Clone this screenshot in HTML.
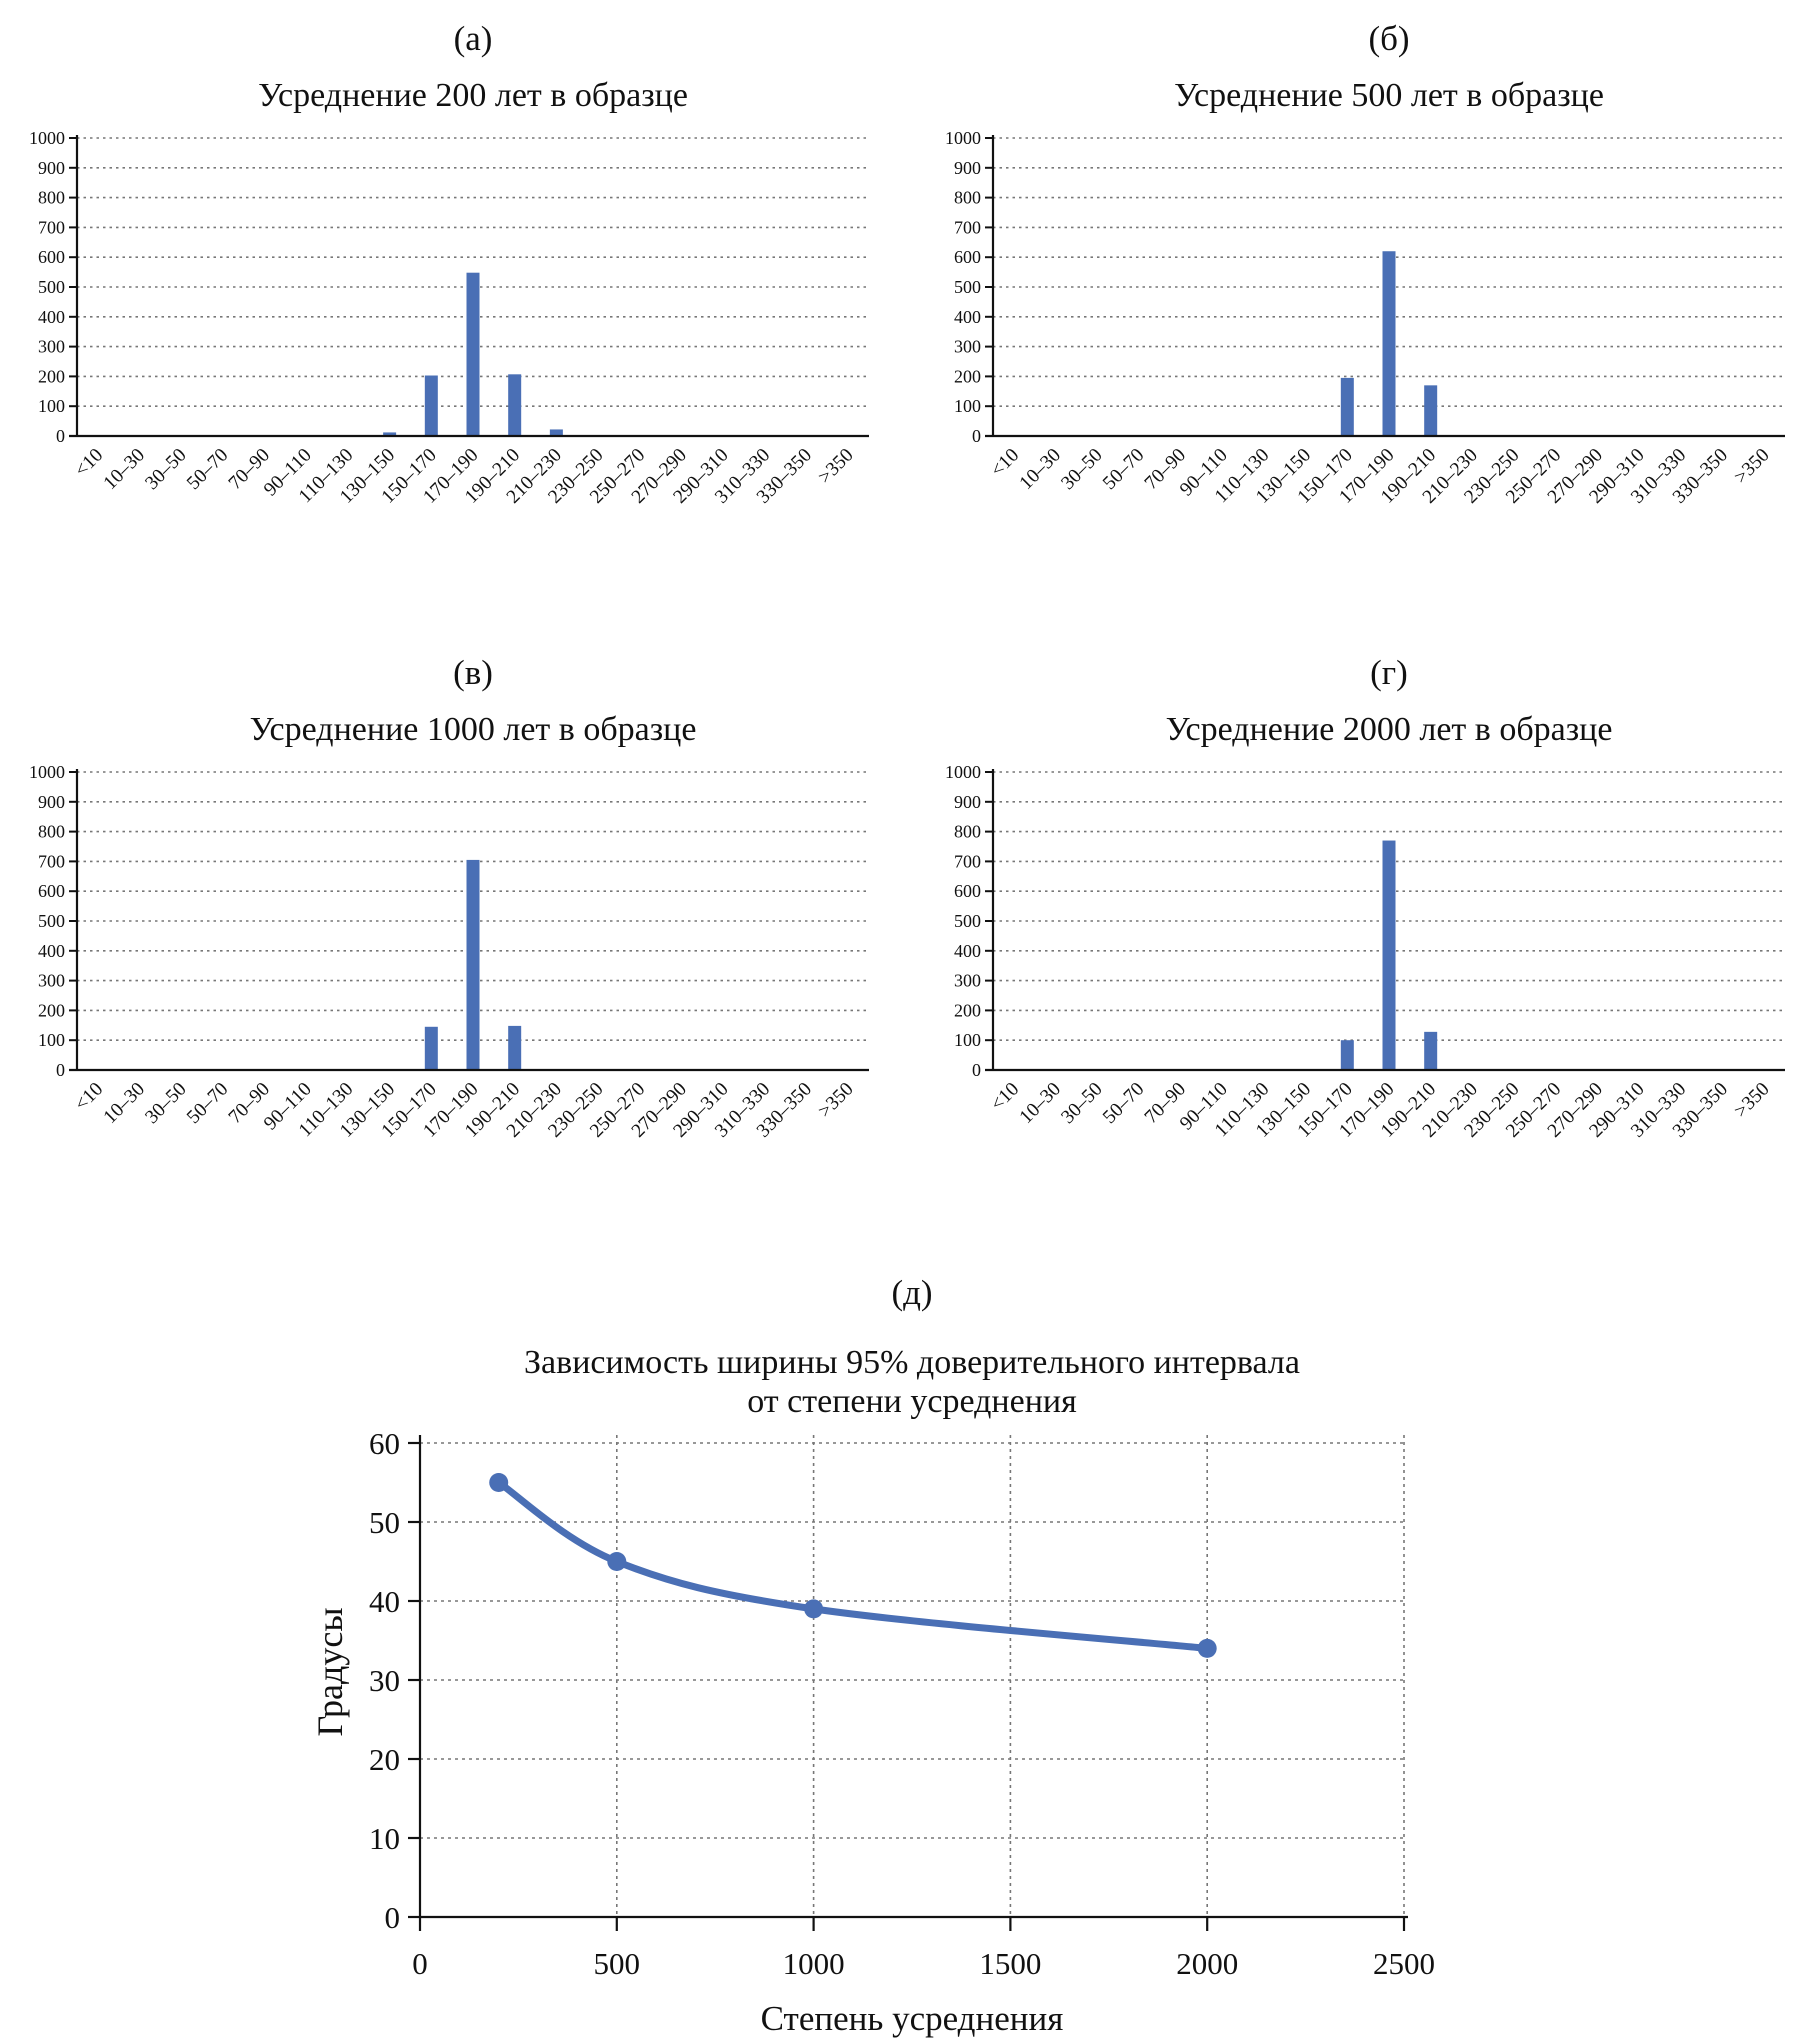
<!DOCTYPE html>
<html><head><meta charset="utf-8">
<style>
html,body{margin:0;padding:0;background:#fff;}
svg{display:block;font-family:"Liberation Serif","DejaVu Serif",serif;}
</style></head>
<body>
<svg id="fig" width="1815" height="2040" viewBox="0 0 1815 2040" xmlns="http://www.w3.org/2000/svg"></svg>
<script>
const categories = ["<10","10–30","30–50","50–70","70–90","90–110","110–130","130–150","150–170","170–190","190–210","210–230","230–250","250–270","270–290","290–310","310–330","330–350",">350"];
const valuesA = [0,0,0,0,0,2,3,12,203,548,207,22,0,0,0,0,0,0,0];
const valuesB = [0,0,0,0,0,0,0,1,195,620,170,2,0,0,0,0,0,0,0];
const valuesC = [0,0,0,0,0,0,0,0,145,705,148,2,0,0,0,0,0,0,0];
const valuesD = [0,0,0,0,0,0,0,0,100,770,128,3,0,0,0,0,0,0,0];
const histTicks = [0,100,200,300,400,500,600,700,800,900,1000];
const lineX = [200,500,1000,2000];
const lineY = [55,45,39,34];
const lineXTicks = [0,500,1000,1500,2000,2500];
const lineYTicks = [0,10,20,30,40,50,60];

const NS="http://www.w3.org/2000/svg";
const svg=document.getElementById('fig');
function mk(tag,attrs,parent){const e=document.createElementNS(NS,tag);for(const k in attrs)e.setAttribute(k,attrs[k]);(parent||svg).appendChild(e);return e;}
function txt(s,attrs,parent){const e=mk('text',attrs,parent);e.textContent=s;return e;}

function hist(id,letter,title,vals,left,top){
  const g=mk('g',{});
  
  
  const right=left+792, y0=top+298, y1=top;
  const ys=v=>y0-(v/1000)*(y0-y1);
  const band=(right-left)/categories.length;
  const cx=i=>left+band*(i+0.5);
  const cxm=(left+right)/2;
  const l=txt(letter,{x:cxm,y:top-88,'text-anchor':'middle','font-size':35,fill:'#111'},g);
  
  
  const t=txt(title,{x:cxm,y:top-32,'text-anchor':'middle','font-size':34,fill:'#111'},g);
  
  
  histTicks.forEach(v=>{
    const y=ys(v);
    if(v>0){const gl=mk('line',{x1:left,x2:right,y1:y,y2:y,stroke:'#777','stroke-width':1.6,'stroke-dasharray':'2.5,4'},g);
      }
    mk('line',{x1:left-8,x2:left,y1:y,y2:y,stroke:'#111','stroke-width':2},g);
    const tl=txt(String(v),{x:left-12,y:y+6,'text-anchor':'end','font-size':18,fill:'#111'},g);
    
  });
  vals.forEach((v,i)=>{
    if(v<=0)return;
    const b=mk('rect',{x:cx(i)-6.5,y:ys(v),width:13,height:y0-ys(v),fill:'#4a6fb5'},g);
    
    
  });
  mk('line',{x1:left,x2:left,y1:y1-3,y2:y0,stroke:'#111','stroke-width':2.2},g);
  mk('line',{x1:left-8,x2:right,y1:y0,y2:y0,stroke:'#111','stroke-width':2.2},g);
  categories.forEach((c,i)=>{
    const ax=cx(i)+6, ay=y0+20;
    const tl=txt(c,{x:ax,y:ay,'text-anchor':'end','font-size':19.5,fill:'#111',transform:`rotate(-45 ${ax} ${ay})`},g);
    
  });
}
hist('a','(а)','Усреднение 200 лет в образце',valuesA,77,138);
hist('b','(б)','Усреднение 500 лет в образце',valuesB,993,138);
hist('c','(в)','Усреднение 1000 лет в образце',valuesC,77,772);
hist('d','(г)','Усреднение 2000 лет в образце',valuesD,993,772);

(function(){
  const g=mk('g',{});
  
  
  const L=420,R=1404,T=1443,B=1917;
  const xs=v=>L+(v/2500)*(R-L);
  const ys=v=>B-(v/60)*(B-T);
  const lab=txt('(д)',{x:912,y:1304,'text-anchor':'middle','font-size':35,fill:'#111'},g);
  
  const t1=txt('Зависимость ширины 95% доверительного интервала',{x:912,y:1373,'text-anchor':'middle','font-size':34,fill:'#111'},g);
  
  const t2=txt('от степени усреднения',{x:912,y:1412,'text-anchor':'middle','font-size':34,fill:'#111'},g);
  
  lineYTicks.forEach(v=>{
    const y=ys(v);
    if(v>0){const gl=mk('line',{x1:L,x2:R,y1:y,y2:y,stroke:'#777','stroke-width':1.6,'stroke-dasharray':'3,4'},g);
      }
    mk('line',{x1:L-12,x2:L,y1:y,y2:y,stroke:'#111','stroke-width':2.2},g);
    const tl=txt(String(v),{x:L-20,y:y+11,'text-anchor':'end','font-size':31,fill:'#111'},g);
    
  });
  lineXTicks.forEach(v=>{
    const x=xs(v);
    if(v>0){const gl=mk('line',{x1:x,x2:x,y1:T-8,y2:B,stroke:'#777','stroke-width':1.6,'stroke-dasharray':'3,4'},g);
      }
    mk('line',{x1:x,x2:x,y1:B,y2:B+14,stroke:'#111','stroke-width':2.2},g);
    const tl=txt(String(v),{x:x,y:B+57,'text-anchor':'middle','font-size':31,fill:'#111'},g);
    
  });
  mk('line',{x1:L,x2:L,y1:T-8,y2:B,stroke:'#111','stroke-width':2.2},g);
  mk('line',{x1:L,x2:R+4,y1:B,y2:B,stroke:'#111','stroke-width':2.2},g);
  const P=lineX.map((x,i)=>[xs(x),ys(lineY[i])]);
  let d=`M${P[0][0]},${P[0][1]}`;
  for(let i=0;i<P.length-1;i++){
    const p0=P[Math.max(0,i-1)],p1=P[i],p2=P[i+1],p3=P[Math.min(P.length-1,i+2)];
    const c1=[p1[0]+(p2[0]-p0[0])/6,p1[1]+(p2[1]-p0[1])/6];
    const c2=[p2[0]-(p3[0]-p1[0])/6,p2[1]-(p3[1]-p1[1])/6];
    d+=` C${c1[0]},${c1[1]} ${c2[0]},${c2[1]} ${p2[0]},${p2[1]}`;
  }
  const ln=mk('path',{d:d,fill:'none',stroke:'#4a6fb5','stroke-width':7,'stroke-linecap':'round'},g);
  
  P.forEach((p,i)=>{
    const c=mk('circle',{cx:p[0],cy:p[1],r:9.5,fill:'#4a6fb5'},g);
    
    
  });
  const xt=txt('Степень усреднения',{x:912,y:2030,'text-anchor':'middle','font-size':35,fill:'#111'},g);
  
  const yt=txt('Градусы',{x:0,y:0,'text-anchor':'middle','font-size':36,fill:'#111',transform:'translate(342 1672) rotate(-90)'},g);
  
})();
</script>
</body></html>
